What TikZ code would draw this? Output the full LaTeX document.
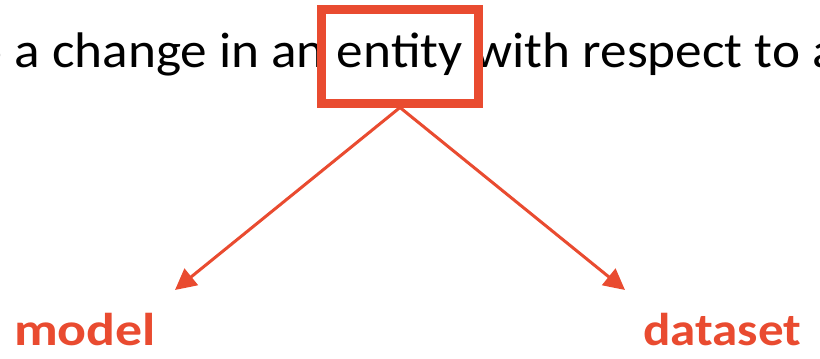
\documentclass[tikz,border=0pt]{standalone}
\usepackage{fontspec}
\setmainfont{Carlito}
\usetikzlibrary{arrows.meta}
\definecolor{accent}{RGB}{233,75,48}
\tikzset{
  line/.style={font=\fontsize{50}{60}\selectfont, inner sep=0pt, anchor=base west, xscale=1.065, transform shape},
  lbl/.style={font=\fontsize{46}{55}\selectfont\bfseries, text=accent, inner sep=0pt, anchor=base west, transform shape},
  hl/.style={draw=accent, line width=9pt, minimum width=157pt, minimum height=94pt, inner sep=0pt},
  conn/.style={draw=accent, line width=3pt, -{Triangle[length=21pt,width=21pt]}}
}
\begin{document}
\begin{tikzpicture}[x=1pt,y=-1pt]
\useasboundingbox (0,0) rectangle (820,359);
\clip (0,0) rectangle (820,359);
\node[line] (sentence) at (-43,67) {to a change in an entity with respect to a};
\node[hl] (ent) at (400,56) {};
\node[lbl, xscale=1.17] (model) at (14,345) {model};
\node[lbl, xscale=1.11] (dataset) at (643,345) {dataset};
\coordinate (tipL) at (175,290);
\coordinate (tipR) at (625,290);
\draw[conn] (ent.south) -- (tipL);
\draw[conn] (ent.south) -- (tipR);
\end{tikzpicture}
\end{document}
